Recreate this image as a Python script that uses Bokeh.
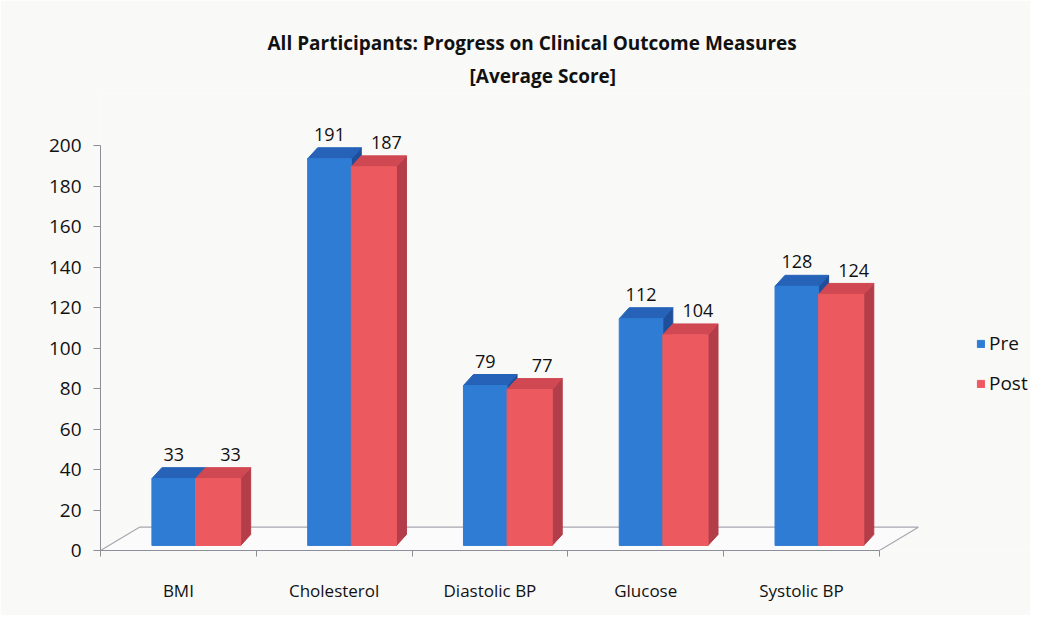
import numpy as np
from bokeh.plotting import figure
from bokeh.models import FixedTicker, Legend, LegendItem, Title, Range1d
from bokeh.core.properties import value
from bokeh.embed import file_html
from bokeh.resources import INLINE

# ---- data ----
categories = ["BMI", "Cholesterol", "Diastolic BP", "Glucose", "Systolic BP"]
pre = [33, 191, 79, 112, 128]
post = [33, 187, 77, 104, 124]
y_ticks = [0, 20, 40, 60, 80, 100, 120, 140, 160, 180, 200]
series_names = ["Pre", "Post"]

# ---- style ----
FONT = "Open Sans"
BLUE = {"front": "#2f7cd4", "top": "#2562b8", "side": "#1f4f9a"}
RED = {"front": "#ec5a60", "top": "#d04852", "side": "#b33d48"}
BG = "#f9f9f8"
AXIS = "#8e8e98"

DX = 0.064      # 3D depth, x (category units)
DY = 5.4        # 3D depth, y (value units)
BASE = 2.5      # bars stand inside the floor
SPAN_PRE = (-0.17, 0.11)
SPAN_POST = (0.11, 0.40)
FLOOR_DX = 0.25
FLOOR_DY = 11.5

p = figure(width=1030, height=615, output_backend="svg", toolbar_location=None,
           x_range=Range1d(-0.5, 5.47), y_range=Range1d(0, 225.7),
           min_border_left=100, min_border_right=0, min_border_top=93,
           min_border_bottom=65)
p.background_fill_color = BG
p.border_fill_color = BG
p.outline_line_color = None
p.xgrid.visible = False
p.ygrid.visible = False

x = np.arange(len(categories), dtype=float)

# floor
p.patch([-0.5, 4.5, 4.5 + FLOOR_DX, -0.5 + FLOOR_DX],
        [0, 0, FLOOR_DY, FLOOR_DY],
        fill_color="#fbfbfb", line_color="#a8a8b0", line_width=1.2)


def faces(vals, span):
    vals = np.asarray(vals, dtype=float)
    L = x + span[0]
    R = x + span[1]
    T = vals + BASE
    B = np.full_like(T, BASE)
    front = ([[l, r, r, l] for l, r in zip(L, R)],
             [[b, b, t, t] for b, t in zip(B, T)])
    top = ([[l, r, r + DX, l + DX] for l, r in zip(L, R)],
           [[t, t, t + DY, t + DY] for t in T])
    side = ([[r, r + DX, r + DX, r] for r in R],
            [[b, b + DY, t + DY, t] for b, t in zip(B, T)])
    return front, top, side


renderers = []
for vals, span, col in [(pre, SPAN_PRE, BLUE), (post, SPAN_POST, RED)]:
    front, top, side = faces(vals, span)
    p.patches(side[0], side[1], fill_color=col["side"], line_color=col["side"])
    p.patches(top[0], top[1], fill_color=col["top"], line_color=col["top"])
    rf = p.patches(front[0], front[1], fill_color=col["front"], line_color=col["front"])
    renderers.append(rf)

# value labels
pre_lx = x + (SPAN_PRE[0] + SPAN_PRE[1]) / 2
post_lx = x + (SPAN_POST[0] + SPAN_POST[1]) / 2 + 0.08
for lx, vals in [(pre_lx, pre), (post_lx, post)]:
    p.text(x=list(lx), y=[v + BASE + 12 for v in vals], text=[str(v) for v in vals],
           text_align="center", text_baseline="middle",
           text_font=value(FONT), text_font_size="18px", text_color="#111111")

# axes
p.yaxis.ticker = FixedTicker(ticks=y_ticks)
p.yaxis.bounds = (0, 200)
p.yaxis.major_label_text_font = FONT
p.yaxis.major_label_text_font_size = "19px"
p.yaxis.major_label_text_color = "#111111"
p.yaxis.major_label_standoff = 12
p.yaxis.major_tick_in = 0
p.yaxis.major_tick_out = 7
p.yaxis.minor_tick_line_color = None
p.yaxis.axis_line_color = AXIS
p.yaxis.major_tick_line_color = AXIS

p.xaxis.ticker = FixedTicker(ticks=list(range(len(categories))),
                             minor_ticks=[i - 0.5 for i in range(len(categories) + 1)])
p.xaxis.major_label_overrides = {i: c for i, c in enumerate(categories)}
p.xaxis.bounds = (-0.5, 4.5)
p.xaxis.major_label_text_font = FONT
p.xaxis.major_label_text_font_size = "17px"
p.xaxis.major_label_text_color = "#111111"
p.xaxis.major_label_standoff = 22
p.xaxis.major_tick_in = 0
p.xaxis.major_tick_out = 0
p.xaxis.minor_tick_in = 0
p.xaxis.minor_tick_out = 6
p.xaxis.axis_line_color = AXIS
p.xaxis.minor_tick_line_color = AXIS

# titles
p.add_layout(Title(text="[Average Score]", align="left", text_font=FONT,
                   text_font_size="19px", text_font_style="bold", offset=369,
                   standoff=10, text_color="#111111"), "above")
p.add_layout(Title(text="All Participants:  Progress on Clinical Outcome Measures",
                   align="left", text_font=FONT, text_font_size="19px",
                   text_font_style="bold", offset=167, standoff=0,
                   text_color="#111111"), "above")

legend = Legend(items=[LegendItem(label=series_names[0], renderers=[renderers[0]]),
                       LegendItem(label=series_names[1], renderers=[renderers[1]])],
                location=(876, 154))
legend.label_text_font = FONT
legend.label_text_font_size = "19px"
legend.label_text_color = "#111111"
legend.glyph_width = 9
legend.glyph_height = 9
legend.label_height = 20
legend.spacing = 14
legend.label_standoff = 4
legend.padding = 0
legend.margin = 0
legend.border_line_color = None
legend.background_fill_alpha = 0
p.add_layout(legend, "center")

open("out.html", "w").write(file_html(p, INLINE))
